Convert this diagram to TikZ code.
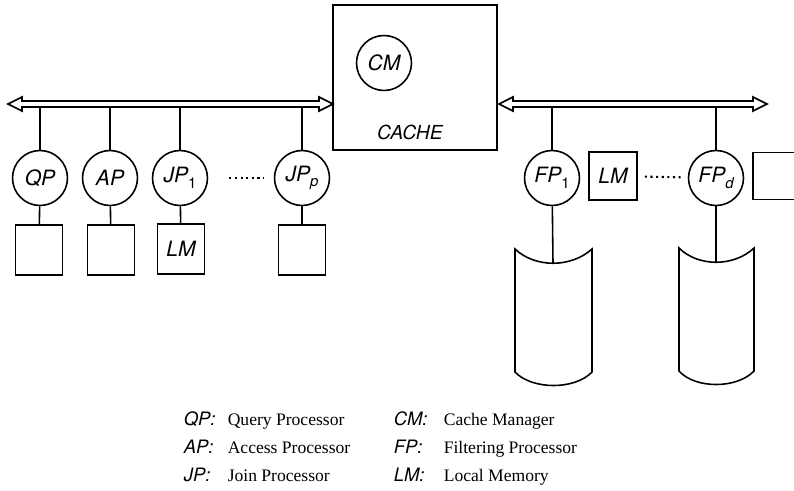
\documentclass[tikz,border=0pt]{standalone}
\usepackage{fontspec}
\setmainfont{Liberation Serif}
\setsansfont{TeX Gyre Heros}
\usetikzlibrary{calc}

\tikzset{
 proc/.style={draw, circle, minimum size=1.1cm, inner sep=0pt, font=\sffamily\itshape\fontsize{12}{14}\selectfont},
 mem/.style={draw, minimum width=0.94cm, minimum height=1cm, inner sep=0pt, font=\sffamily\itshape\fontsize{12}{14}\selectfont},
 abbr/.style={anchor=base west, inner sep=0pt, font=\sffamily\itshape\fontsize{10.5}{12}\selectfont},
 desc/.style={anchor=base west, inner sep=0pt, font=\fontsize{10}{12}\selectfont}
}
\newcommand{\ix}[1]{\raisebox{-0.5ex}{\fontsize{8.5}{9}\selectfont #1}}

\begin{document}
\begin{tikzpicture}[x=0.02cm, y=-0.02cm, line width=0.9pt]
\useasboundingbox (0,0) rectangle (794,490);

% cache
\node[draw, minimum width=3.28cm, minimum height=2.9cm] (cache) at (415,77.5) {};
\node[proc] (cm) at (384,63) {CM};
\node[font=\sffamily\itshape\fontsize{11}{13}\selectfont] (cachelbl) at (410,132) {CACHE};

% left bus
\draw (8,104) -- (22,97) -- (22,101) -- (319,101) -- (319,97) -- (333,104)
 -- (319,111) -- (319,107) -- (22,107) -- (22,111) -- cycle;
\coordinate (lbus) at (0,107);

\node[proc] (qp) at (40,178) {QP};
\node[proc] (ap) at (110,178) {AP};
\node[proc] (jp1) at (180,178) {JP\ix{\upshape 1}};
\node[proc] (jpp) at (302,178) {JP\ix{p}};

\node[mem] (mq) at (39,250) {};
\node[mem] (ma) at (111,250) {};
\node[mem] (mj1) at (181,249) {LM};
\node[mem] (mjp) at (302,250) {};

\foreach \p/\m in {qp/mq, ap/ma, jp1/mj1, jpp/mjp} {
 \draw (\p) -- (\p |- lbus);
 \draw (\p) -- (\m);
}
\draw[dotted, line width=1.2pt, shorten <=12pt, shorten >=6pt] (jp1) -- (jpp);

% right bus
\draw (499,104) -- (513,97) -- (513,101) -- (753,101) -- (753,97) -- (767,104)
 -- (753,111) -- (753,107) -- (513,107) -- (513,111) -- cycle;
\coordinate (rbus) at (0,107);

\node[proc] (fp1) at (552,178) {FP\ix{\upshape 1}};
\node[mem, minimum width=0.96cm, minimum height=0.96cm] (lm) at (613,176) {LM};
\node[proc] (fpd) at (716,178) {FP\ix{d}};
\node[mem, minimum width=0.96cm, minimum height=0.94cm] (mfd) at (777,176) {};
\draw[dotted, line width=1.2pt, shorten <=4pt, shorten >=4pt] (lm) -- (fpd);

% disks
\coordinate (d1) at (553,263);
\coordinate (d2) at (716,262);
\draw (515,249) .. controls (535,268) and (571,268) .. (592,249) -- (592,372)
 .. controls (575,390) and (532,390) .. (515,372) -- cycle;
\draw (679,248) .. controls (698,267) and (734,267) .. (754,248) -- (754,371)
 .. controls (737,389) and (695,389) .. (679,371) -- cycle;
\draw (fp1) -- (fp1 |- rbus);
\draw (fpd) -- (fpd |- rbus);
\draw (fp1) -- (d1);
\draw (fpd) -- (d2);

% legend
\node[abbr] (l1) at (183,425) {QP:};
\node[abbr] (l2) at (183,453) {AP:};
\node[abbr] (l3) at (183,481) {JP:};
\node[desc] (t1) at (227,425) {Query Processor};
\node[desc] (t2) at (227,453) {Access Processor};
\node[desc] (t3) at (227,481) {Join Processor};
\node[abbr] (l4) at (393,425) {CM:};
\node[abbr] (l5) at (393,453) {FP:};
\node[abbr] (l6) at (393,481) {LM:};
\node[desc] (t4) at (443,425) {Cache Manager};
\node[desc] (t5) at (443,453) {Filtering Processor};
\node[desc] (t6) at (443,481) {Local Memory};
\end{tikzpicture}
\end{document}
